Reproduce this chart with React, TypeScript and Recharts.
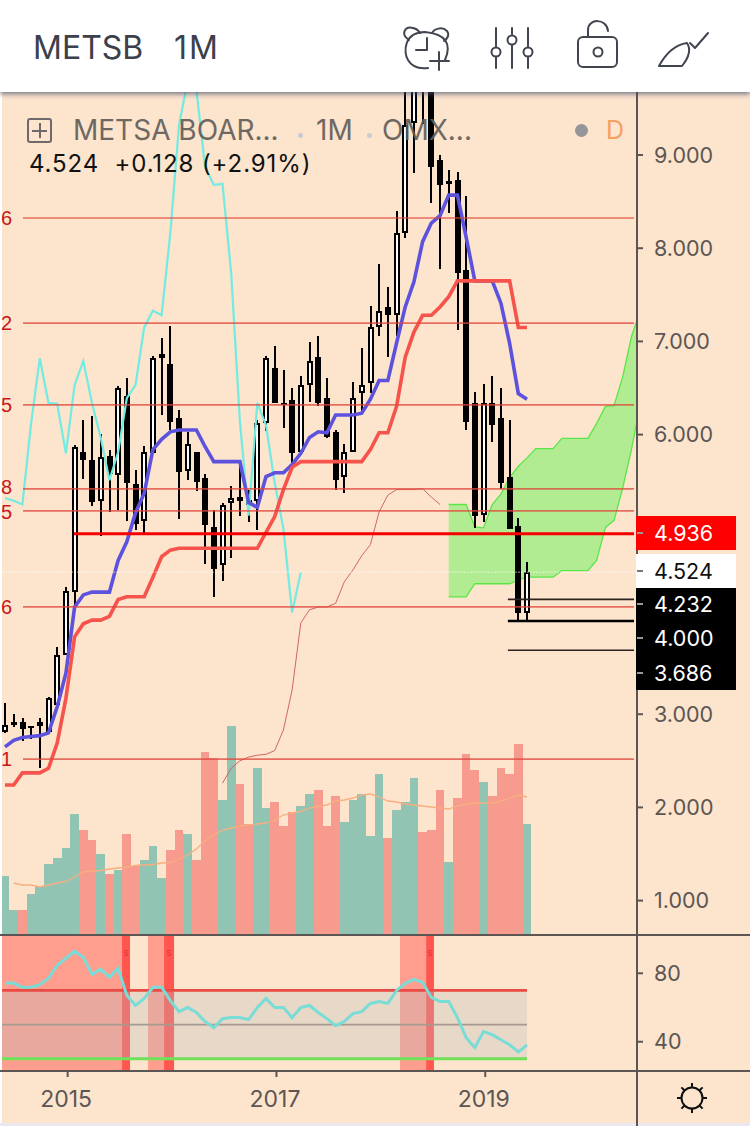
import React from "react";
import { ComposedChart, Bar, Line, Area, XAxis, YAxis, ReferenceLine, ReferenceArea } from "recharts";

const opens = [2.81,2.92,2.92,2.87,2.87,2.81,3.10,3.64,4.31,5.81,5.73,5.29,5.77,5.57,6.41,5.47,5.07,5.80,6.82,6.76,6.18,5.61,5.81,5.53,5.01,4.60,5.27,5.33,5.30,5.29,6.12,6.71,6.34,6.37,5.81,6.53,6.83,6.39,6.03,5.54,5.81,6.45,6.55,7.15,7.37,7.28,8.16,9.34,10.02,9.72,8.95,8.72,8.73,7.77,6.34,5.14,6.34,6.18,5.54,5.02,4.09];
const closes = [2.88,2.88,2.84,2.85,2.92,3.17,3.64,4.32,5.87,5.73,5.28,5.76,5.58,6.50,5.48,5.04,5.81,6.82,6.87,6.14,5.60,5.90,5.49,5.03,4.56,5.25,5.32,5.29,5.25,6.12,6.82,6.34,6.33,5.80,6.53,6.79,6.34,5.97,5.51,5.81,6.39,6.53,7.15,7.33,7.28,8.16,9.32,9.80,9.70,8.87,8.68,8.69,7.73,6.14,5.13,6.34,6.10,5.48,4.99,4.09,4.524];
const highs = [3.12,3.00,2.96,2.87,2.96,3.18,3.72,4.36,5.89,6.16,6.20,6.01,5.83,6.52,6.61,5.62,5.88,6.84,7.04,7.17,6.26,6.03,5.81,5.58,5.19,5.27,5.45,5.68,5.41,6.16,6.84,6.95,6.69,6.50,6.63,6.99,7.06,6.61,6.05,5.90,6.56,6.93,7.38,7.83,7.58,8.40,9.80,10.02,10.13,10.02,9.00,8.84,8.82,8.56,6.46,6.54,6.63,6.50,6.16,5.10,4.63];
const lows = [2.80,2.86,2.71,2.73,2.42,2.81,3.10,3.64,4.15,5.53,5.23,4.92,5.17,5.19,5.08,4.98,4.95,5.80,6.21,6.05,5.09,5.51,5.39,4.61,4.26,4.43,4.68,5.12,5.07,4.98,6.04,6.34,6.07,5.65,5.81,6.35,6.31,5.97,5.41,5.37,5.81,6.24,6.45,7.06,6.83,7.06,8.10,8.81,9.34,8.49,7.78,8.38,7.13,6.05,5.00,5.06,5.92,5.42,4.99,4.01,4.01];

const blueLine = [2.65,2.72,2.75,2.76,2.77,2.80,3.08,3.44,4.15,4.28,4.31,4.31,4.31,4.65,4.85,5.16,5.37,5.84,5.95,6.03,6.05,6.05,6.05,5.87,5.71,5.71,5.71,5.71,5.27,5.22,5.55,5.59,5.59,5.68,5.80,5.97,6.03,6.02,6.21,6.21,6.21,6.23,6.38,6.58,6.58,6.98,7.37,7.64,8.07,8.27,8.35,8.57,8.57,8.12,7.65,7.65,7.65,7.41,6.98,6.44,6.38];
const redLine = [2.24,2.24,2.37,2.37,2.37,2.42,2.69,3.17,3.83,3.97,4.01,4.01,4.05,4.23,4.26,4.26,4.26,4.47,4.69,4.76,4.78,4.78,4.78,4.78,4.78,4.78,4.78,4.78,4.78,4.78,4.95,5.12,5.41,5.65,5.71,5.71,5.71,5.71,5.71,5.71,5.71,5.71,5.84,6.02,6.02,6.30,6.83,7.10,7.28,7.28,7.37,7.48,7.65,7.65,7.65,7.65,7.65,7.65,7.65,7.15,7.15];
const thinStart = 25;
const thinRedLine = [2.26,2.42,2.50,2.54,2.56,2.57,2.61,2.83,3.26,3.98,4.12,4.15,4.15,4.19,4.42,4.55,4.70,4.82,5.17,5.35,5.41,5.41,5.41,5.42,5.33,5.25];
const lagShift = 26;
const cloudStart = 51;
const cloudUpper = [5.25,5.25,5.25,5.01,5.00,5.25,5.36,5.54,5.66,5.75,5.85,5.85,5.85,5.96,5.96,5.96,5.96,6.12,6.30,6.31,6.62,7.05,7.33];
const cloudLower = [4.26,4.26,4.26,4.40,4.40,4.40,4.40,4.40,4.44,4.47,4.47,4.47,4.47,4.54,4.54,4.54,4.54,4.65,5.00,5.08,5.43,5.84,6.32];

const volumes = [59,25,25,41,48,71,77,87,121,105,95,81,61,65,101,69,75,89,57,85,105,101,75,183,177,135,209,151,111,167,127,133,109,123,129,141,145,109,139,113,135,141,99,161,97,125,133,157,103,105,145,73,137,181,165,153,139,167,161,191,111];
const volumeUp = [1,1,0,1,1,1,1,1,1,0,0,1,0,1,0,0,1,1,1,0,0,1,0,0,0,1,1,0,0,1,1,0,0,0,1,1,0,0,0,1,1,1,1,1,0,1,1,1,0,0,0,1,0,0,0,1,0,0,0,0,1];
const volumeAvg = [null,52,50,50,48,50,52,53.5,58,63,64,64.5,66,67,68,69.5,70,70.5,72,72.5,76,80,86,94,100,105,107,109,110,111,112,115,120,122,123.5,127,128.5,130,134,135,137,140,141,138,134,133,131,130,129,128,127,126,129,131,132,132,132,134,137,140,138];

const rsi = [74.3,74.3,71.8,71.9,73.4,77.1,84.7,88.8,92.9,89.4,79.4,82.4,77.6,82.9,67.1,61.2,65.3,71.8,71.8,64.1,57.6,60,57.1,51.8,48.2,53.5,54.1,54.1,52.9,60,65.3,60,60,54.1,60,61.2,57.1,53.5,49.4,51.8,56.5,57.6,62.4,63.5,62.4,70,74.1,76.5,74.7,65.9,63.5,63.5,54.1,42.4,36.5,45.9,44.1,41.2,38.2,34.1,38.2];

const srLevels = [8.324, 7.197, 6.318, 5.418, 5.182, 4.151, 2.519];
const srDigits = ["6", "2", "5", "8", "5", "6", "1"];
const priceTicks = [1, 2, 3, 6, 7, 8, 9];
const rsiTicks = [40, 80];
const yearLabels: Record<string, string> = { "7.2": "2015", "31.2": "2017", "55.2": "2019" };
const yearTicks = [7.2, 31.2, 55.2];
const tags = [
  { label: "4.936", top: 516, bottom: 550, bg: "#ff0000", fg: "#ffffff", textY: 533 },
  { label: "4.524", top: 554, bottom: 588, bg: "#ffffff", fg: "#111111", textY: 571 },
  { label: "4.232", top: 588, bottom: 622, bg: "#000000", fg: "#ffffff", textY: 604 },
  { label: "4.000", top: 622, bottom: 656, bg: "#000000", fg: "#ffffff", textY: 638 },
  { label: "3.686", top: 656, bottom: 690, bg: "#000000", fg: "#ffffff", textY: 673 },
];

const rows = Array.from({ length: 74 }, (_, i) => ({
  i,
  range: i < lows.length ? [lows[i], highs[i]] : null,
  open: opens[i] ?? null,
  close: closes[i] ?? null,
  blue: blueLine[i] ?? null,
  red: redLine[i] ?? null,
  lag: closes[i + lagShift] ?? null,
  thin: i >= thinStart ? thinRedLine[i - thinStart] ?? null : null,
  cloud: i >= cloudStart && i - cloudStart < cloudUpper.length ? [cloudLower[i - cloudStart], cloudUpper[i - cloudStart]] : null,
  vol: volumes[i] ?? null,
  volUp: volumeUp[i] ?? 0,
  volAvg: volumeAvg[i] ?? null,
  rsi: rsi[i] ?? null,
}));

const BG = "#fce4cd";
const AXIS = "#5b5654";
const FONT = "Inter, 'Noto Sans', sans-serif";
const xDomain: [number, number] = [-0.345, 72.64];
const xEnd = 72.3;

function Candle(props: any) {
  const { x, y, width, height, payload } = props;
  if (payload.open == null || !payload.range) return null;
  const [lo, hi] = payload.range;
  const k = height / (hi - lo || 1);
  const cx = Math.round(x + width / 2);
  const up = payload.close >= payload.open;
  const top = Math.round(y + (hi - Math.max(payload.open, payload.close)) * k);
  const bottom = Math.round(y + (hi - Math.min(payload.open, payload.close)) * k);
  return (
    <g shapeRendering="crispEdges">
      <rect x={cx - 1} y={Math.round(y)} width={2} height={Math.round(height)} fill="#000" />
      {up ? (
        <rect x={cx - 2} y={top + 1} width={4} height={Math.max(bottom - top - 2, 1)} fill="#fff" stroke="#000" strokeWidth={2} />
      ) : (
        <rect x={cx - 3} y={top} width={6} height={Math.max(bottom - top, 2)} fill="#000" />
      )}
    </g>
  );
}

function VolumeBar(props: any) {
  const { x, y, width, height, payload } = props;
  const l = Math.round(x);
  const r = Math.round(x + width);
  return <rect x={l} y={y} width={r - l} height={height} fill={payload.volUp ? "#92c4b4" : "#f69b8e"} />;
}

function Icons() {
  const s = { fill: "none", stroke: "#41454f", strokeWidth: 2, strokeLinecap: "round" as const, strokeLinejoin: "round" as const };
  return (
    <svg width={750} height={92} style={{ position: "absolute", left: 0, top: 0 }}>
      <path d="M445 60 C452 44 446 34 425 32 C404 32 403 52 408 60 C412 67 420 69 428 68" {...s} />
      <path d="M409 40 C400 34 405 26 413 28 C417 29 419 31 420 33" {...s} />
      <path d="M432 33 C434 29 442 26 447 31 C450 35 447 39 444 41" {...s} />
      <path d="M427 38 V50 H416 M430 61 H449 M439 52 V70" {...s} />
      <path d="M496 28 V47 M496 57 V68 M512 28 V35 M512 45 V68 M528 28 V47 M528 57 V68" {...s} />
      <circle cx={496} cy={52} r={4.5} {...s} />
      <circle cx={512} cy={40} r={4.5} {...s} />
      <circle cx={528} cy={52} r={4.5} {...s} />
      <rect x={578} y={37} width={39} height={30} rx={5} {...s} />
      <circle cx={598} cy={52} r={4.5} {...s} />
      <path d="M588 37 V30 C588 18 607 18 608 31" {...s} />
      <path d="M659 66 H682 C690 56 691 49 687 43 C673 45 665 55 659 66 Z" {...s} />
      <path d="M690 43 L695 48 L708 33" {...s} />
    </svg>
  );
}

function Sun() {
  const angles = [0, 45, 90, 135, 180, 225, 270, 315];
  return (
    <svg width={40} height={40} style={{ position: "absolute", left: 672, top: 1078 }}>
      <circle cx={20} cy={20} r={10.5} fill="none" stroke="#111" strokeWidth={2} />
      {angles.map((a) => {
        const c = Math.cos((a * Math.PI) / 180);
        const t = Math.sin((a * Math.PI) / 180);
        return <line key={a} x1={20 + 10.5 * c} y1={20 + 10.5 * t} x2={20 + 15 * c} y2={20 + 15 * t} stroke="#111" strokeWidth={2} />;
      })}
    </svg>
  );
}

const abs = (o: React.CSSProperties): React.CSSProperties => ({ position: "absolute", ...o });

export default function App() {
  const axisTick = { fill: AXIS, fontSize: 21.5, fontFamily: FONT };
  return (
    <div style={abs({ position: "fixed", left: 0, top: 0, width: 750, height: 1126, background: "#fff", overflow: "hidden", fontFamily: FONT })}>
      <div style={abs({ left: 2, top: 0, width: 748, height: 1123, background: BG })} />
      <div style={abs({ left: 0, top: 1123, width: 750, height: 3, background: "#ece7f0" })} />

      {/* Volume layer */}
      <div style={abs({ left: 0, top: 92 })}>
        <ComposedChart width={750} height={843} data={rows.slice(0, 61)} margin={{ top: 0, right: 113, bottom: 0, left: 2 }}>
          <XAxis dataKey="i" type="number" domain={xDomain} allowDataOverflow hide />
          <YAxis domain={[0, 843]} allowDataOverflow hide />
          <Bar dataKey="vol" barSize={8.7} shape={<VolumeBar />} isAnimationActive={false} />
          <Line dataKey="volAvg" type="linear" stroke="#f7ae80" strokeWidth={1.3} dot={false} activeDot={false} isAnimationActive={false} />
        </ComposedChart>
      </div>

      {/* Price layer */}
      <div style={abs({ left: 0, top: 92 })}>
        <ComposedChart width={750} height={843} data={rows} margin={{ top: 0, right: 0, bottom: 0, left: 2 }}>
          <XAxis dataKey="i" type="number" domain={xDomain} allowDataOverflow hide />
          <YAxis
            orientation="right"
            width={113}
            domain={[0.631, 9.676]}
            allowDataOverflow
            ticks={priceTicks}
            interval={0}
            tickFormatter={(v: number) => v.toFixed(3)}
            axisLine={false}
            tickLine={{ stroke: AXIS, strokeWidth: 2 }}
            tickSize={6}
            tickMargin={11}
            tick={axisTick}
          />
          <Area dataKey="cloud" type="linear" fill="#b2ec92" fillOpacity={1} stroke="#5ae648" strokeWidth={1.3} dot={false} activeDot={false} isAnimationActive={false} />
          <Line dataKey="thin" type="linear" stroke="#d0685e" strokeWidth={1} dot={false} activeDot={false} isAnimationActive={false} />
          <Line dataKey="lag" type="linear" stroke="#72ece2" strokeWidth={2.2} dot={false} activeDot={false} isAnimationActive={false} />
          <Line dataKey="blue" type="linear" stroke="#5c52de" strokeWidth={3.6} dot={false} activeDot={false} isAnimationActive={false} />
          <Line dataKey="red" type="linear" stroke="#f5534c" strokeWidth={3.6} dot={false} activeDot={false} isAnimationActive={false} />
          <Bar dataKey="range" barSize={7} shape={<Candle />} isAnimationActive={false} />
          <ReferenceLine y={4.524} stroke="#ffffff" strokeOpacity={0.6} strokeWidth={1} strokeDasharray="2 1" />
          {srLevels.map((v) => (
            <ReferenceLine key={v} segment={[{ x: 2.07, y: v }, { x: xEnd, y: v }]} stroke="#e0453c" strokeOpacity={0.75} strokeWidth={1.7} />
          ))}
          <ReferenceLine segment={[{ x: 7.93, y: 4.936 }, { x: xEnd, y: 4.936 }]} stroke="#f50000" strokeWidth={2.8} />
          <ReferenceLine segment={[{ x: 57.8, y: 4.232 }, { x: xEnd, y: 4.232 }]} stroke="#2a2320" strokeWidth={1.7} />
          <ReferenceLine segment={[{ x: 57.8, y: 4.0 }, { x: xEnd, y: 4.0 }]} stroke="#000" strokeWidth={2.6} />
          <ReferenceLine segment={[{ x: 57.8, y: 3.686 }, { x: xEnd, y: 3.686 }]} stroke="#2a2320" strokeWidth={1.7} />
        </ComposedChart>
      </div>

      {/* RSI layer */}
      <div style={abs({ left: 0, top: 936 })}>
        <ComposedChart width={750} height={190} data={rows} margin={{ top: 0, right: 0, bottom: 0, left: 2 }}>
          <XAxis
            dataKey="i"
            type="number"
            domain={xDomain}
            allowDataOverflow
            height={55}
            ticks={yearTicks}
            interval={0}
            tickFormatter={(v: number) => yearLabels[String(v)]}
            axisLine={false}
            tickLine={{ stroke: AXIS, strokeWidth: 2 }}
            tickSize={6}
            tickMargin={14}
            tick={{ ...axisTick, fontSize: 23, dx: -1.5 }}
          />
          <YAxis
            orientation="right"
            width={113}
            domain={[22.9, 101.8]}
            allowDataOverflow
            ticks={rsiTicks}
            interval={0}
            axisLine={false}
            tickLine={{ stroke: AXIS, strokeWidth: 2 }}
            tickSize={6}
            tickMargin={11}
            tick={axisTick}
          />
          <ReferenceArea x1={-0.345} x2={13.45} fill="#ff9e8e" fillOpacity={1} />
          <ReferenceArea x1={16.44} x2={18.28} fill="#ff9e8e" fillOpacity={1} />
          <ReferenceArea x1={45.4} x2={48.4} fill="#ff9e8e" fillOpacity={1} />
          <ReferenceArea x1={13.45} x2={14.37} fill="#ff5650" fillOpacity={1} label={{ value: "s", position: "insideTop", offset: 13, fontSize: 10, fill: "#e8333a" }} />
          <ReferenceArea x1={18.28} x2={19.43} fill="#ff5650" fillOpacity={1} label={{ value: "s", position: "insideTop", offset: 13, fontSize: 10, fill: "#e8333a" }} />
          <ReferenceArea x1={48.4} x2={49.3} fill="#ff5650" fillOpacity={1} label={{ value: "s", position: "insideTop", offset: 13, fontSize: 10, fill: "#e8333a" }} />
          <ReferenceArea x1={-0.345} x2={60} y1={30} y2={70} fill="#b8c0c0" fillOpacity={0.31} />
          <ReferenceLine segment={[{ x: -0.345, y: 70 }, { x: 60, y: 70 }]} stroke="#ea4a44" strokeWidth={2.6} />
          <ReferenceLine segment={[{ x: -0.345, y: 50 }, { x: 60, y: 50 }]} stroke="#a69a90" strokeWidth={1.8} />
          <ReferenceLine segment={[{ x: -0.345, y: 30 }, { x: 60, y: 30 }]} stroke="#6fe25a" strokeWidth={3} />
          <Line dataKey="rsi" type="linear" stroke="#7adcd6" strokeWidth={3} dot={false} activeDot={false} isAnimationActive={false} />
        </ComposedChart>
      </div>

      {/* Frame */}
      <div style={abs({ left: 636, top: 92, width: 2, height: 1034, background: AXIS })} />
      <div style={abs({ left: 0, top: 934, width: 750, height: 2, background: AXIS })} />
      <div style={abs({ left: 0, top: 1070, width: 750, height: 2, background: AXIS })} />

      {/* Cut-off level labels */}
      {srLevels.map((v, k) => (
        <div
          key={k}
          style={abs({
            left: 1,
            top: 155 + (9 - v) * 93.2 - 10 + (k === 3 ? -1.5 : k === 4 ? 1.5 : 0),
            fontSize: 20,
            lineHeight: "20px",
            fontFamily: "'Liberation Sans', sans-serif",
            color: "#c8161a",
          })}
        >
          {srDigits[k]}
        </div>
      ))}

      {/* Price tags */}
      {tags.map((t) => (
        <React.Fragment key={t.label}>
          <div style={abs({ left: 636, top: t.top, width: 100, height: t.bottom - t.top, background: t.bg })} />
          <div style={abs({ left: 654, top: t.textY - 13, fontSize: 21.5, lineHeight: "26px", color: t.fg })}>{t.label}</div>
          <div style={abs({ left: 637, top: t.textY - 1, width: 6, height: 2, background: t.bg === "#ffffff" ? "#777" : "#999" })} />
        </React.Fragment>
      ))}

      {/* Legend */}
      <div style={abs({ left: 27, top: 118, width: 21, height: 21, border: "2px solid #6e6a6c", borderRadius: 3 })}>
        <div style={abs({ left: 3, top: 9.5, width: 15, height: 2, background: "#6e6a6c" })} />
        <div style={abs({ left: 9.5, top: 3, width: 2, height: 15, background: "#6e6a6c" })} />
      </div>
      <div style={abs({ left: 73, top: 114, fontSize: 28, lineHeight: "32px", color: "#5f5b58", whiteSpace: "nowrap", opacity: 0.9 })}>METSA BOAR...</div>
      <div style={abs({ left: 298, top: 133, width: 5, height: 5, borderRadius: 3, background: "#c9ccce" })} />
      <div style={abs({ left: 316, top: 114, fontSize: 28, lineHeight: "32px", color: "#5f5b58", opacity: 0.9 })}>1M</div>
      <div style={abs({ left: 367, top: 133, width: 5, height: 5, borderRadius: 3, background: "#c9ccce" })} />
      <div style={abs({ left: 382, top: 114, fontSize: 28, lineHeight: "32px", color: "#5f5b58", whiteSpace: "nowrap", opacity: 0.9 })}>OMX...</div>
      <div style={abs({ left: 575, top: 124, width: 13, height: 13, borderRadius: 7, background: "#949699" })} />
      <div style={abs({ left: 606, top: 114, fontSize: 25, lineHeight: "32px", color: "#f7a05f" })}>D</div>
      <div style={abs({ left: 29, top: 150, fontSize: 24, lineHeight: "28px", letterSpacing: 0.9, color: "#111", whiteSpace: "pre" })}>{"4.524  +0.128 (+2.91%)"}</div>

      <Sun />

      {/* Header */}
      <div style={abs({ left: 0, top: 0, width: 750, height: 92, background: "#fff", boxShadow: "0 2px 5px rgba(70,80,110,0.75)" })}>
        <div style={abs({ left: 33, top: 28, fontSize: 32, lineHeight: "40px", color: "#3c404b" })}>METSB</div>
        <div style={abs({ left: 174, top: 28, fontSize: 32, lineHeight: "40px", letterSpacing: 2, color: "#3c404b" })}>1M</div>
        <Icons />
      </div>
    </div>
  );
}
